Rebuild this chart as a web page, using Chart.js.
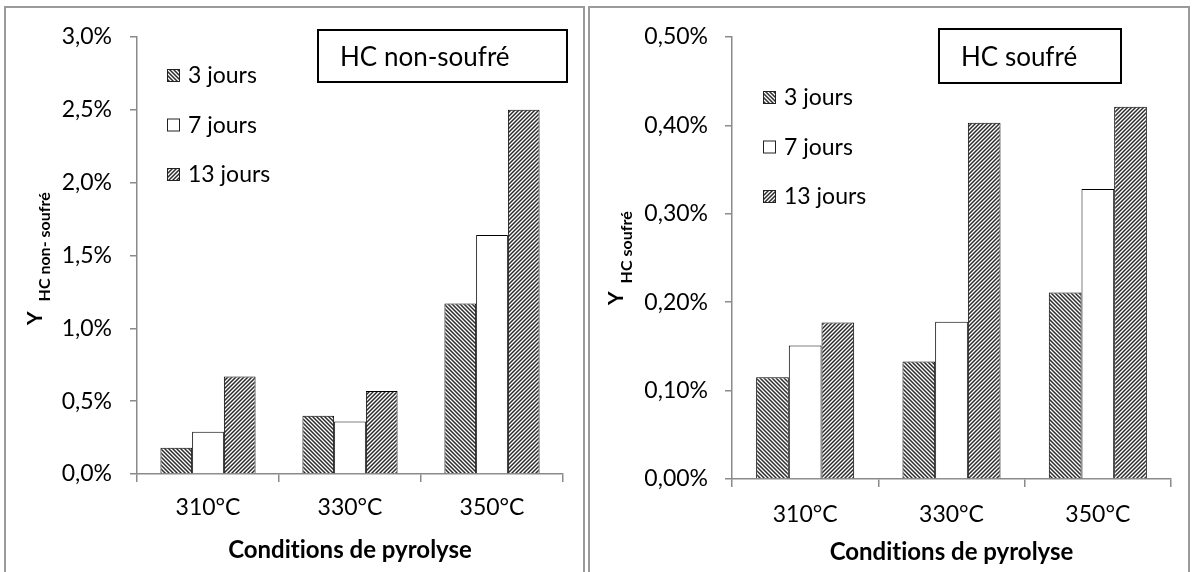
<!DOCTYPE html>
<html>
<head>
<meta charset="utf-8">
<title>Rendements HC</title>
<script src="https://cdn.jsdelivr.net/npm/chart.js@4.4.1/dist/chart.umd.min.js"></script>
<style>
  body { margin: 0; background: #fff; width: 1192px; height: 572px; overflow: hidden; position: relative; }
  .panel { position: absolute; top: 6px; height: 620px; border: 2px solid #9a9a9a; box-sizing: border-box; }
  canvas { position: absolute; top: 0; }
</style>
</head>
<body>
<div class="panel" style="left:4px; width:581px"></div>
<div class="panel" style="left:588px; width:602px"></div>
<canvas id="nonSoufre" width="586" height="572" style="left:0"></canvas>
<canvas id="soufre" width="606" height="572" style="left:586px"></canvas>
<script>
const conditions = ['310°C', '330°C', '350°C'];
const durations = ['3 jours', '7 jours', '13 jours'];

// rendement HC non-soufré (%)
const nonSoufre3j = [0.18, 0.40, 1.17];
const nonSoufre7j = [0.29, 0.36, 1.64];
const nonSoufre13j = [0.67, 0.57, 2.50];

// rendement HC soufré (%)
const soufre3j = [0.115, 0.133, 0.211];
const soufre7j = [0.151, 0.178, 0.328];
const soufre13j = [0.177, 0.403, 0.421];

const FONT = 'Lato';
// zero-width non-joiner keeps Lato from using its "ti" ligature
const xTitle = 'Condit\u200Cions de pyrolyse';

// 4x4 tile of diagonal stripes, dir 1 = "\\", dir -1 = "/"
function hatch(dir) {
    const tile = document.createElement('canvas');
    tile.width = 4;
    tile.height = 4;
    const g = tile.getContext('2d');
    const img = g.createImageData(4, 4);
    const shade = [45, 140, 255, 140];
    for (let y = 0; y < 4; y++) {
        for (let x = 0; x < 4; x++) {
            const d = (((dir > 0 ? x - y : x + y) % 4) + 4) % 4;
            const i = (y * 4 + x) * 4;
            img.data[i] = img.data[i + 1] = img.data[i + 2] = shade[d];
            img.data[i + 3] = 255;
        }
    }
    g.putImageData(img, 0, 0);
    return g.createPattern(tile, 'repeat');
}

const fills = [hatch(1), '#ffffff', hatch(-1)];

// legend drawn inside the plot, one row per series
const legendBox = {
    id: 'legendBox',
    afterDraw(chart, args, opts) {
        const ctx = chart.ctx;
        ctx.save();
        ctx.font = `23px ${FONT}`;
        ctx.textBaseline = 'middle';
        ctx.textAlign = 'left';
        chart.data.datasets.forEach((ds, i) => {
            const y = opts.top + i * opts.step;
            ctx.fillStyle = ds.backgroundColor;
            ctx.fillRect(opts.x, y - 6, 13, 13);
            ctx.strokeStyle = '#222';
            ctx.lineWidth = 1;
            ctx.strokeRect(opts.x + 0.5, y - 5.5, 12, 12);
            ctx.fillStyle = '#000';
            ctx.fillText(ds.label, opts.x + 21, y + 1);
        });
        ctx.restore();
    }
};

// framed caption in the upper right corner
const titleBox = {
    id: 'titleBox',
    afterDraw(chart, args, opts) {
        const ctx = chart.ctx;
        ctx.save();
        ctx.fillStyle = '#fff';
        ctx.fillRect(opts.x, opts.y, opts.w, opts.h);
        ctx.strokeStyle = '#000';
        ctx.lineWidth = 2;
        ctx.strokeRect(opts.x, opts.y, opts.w, opts.h);
        ctx.fillStyle = '#000';
        ctx.font = `26px ${FONT}`;
        ctx.textBaseline = 'alphabetic';
        ctx.fillText(opts.text, opts.textX, opts.y + opts.h / 2 + 10);
        ctx.restore();
    }
};

// rotated "Y" with a subscript
const yTitle = {
    id: 'yTitle',
    afterDraw(chart, args, opts) {
        const ctx = chart.ctx;
        ctx.save();
        ctx.translate(opts.x, opts.y);
        ctx.rotate(-Math.PI / 2);
        ctx.fillStyle = '#000';
        ctx.textBaseline = 'alphabetic';
        ctx.font = `bold 21px ${FONT}`;
        ctx.fillText('Y', 0, 0);
        const w = ctx.measureText('Y').width;
        ctx.font = `bold 16px ${FONT}`;
        ctx.fillText(opts.sub, w + opts.gap, opts.drop);
        ctx.restore();
    }
};

function makeChart(id, series, cfg) {
    return new Chart(document.getElementById(id), {
        type: 'bar',
        data: {
            labels: conditions,
            datasets: durations.map((label, i) => ({
                label: label,
                data: series[i],
                backgroundColor: fills[i],
                borderColor: '#000',
                borderWidth: 1,
                categoryPercentage: 0.67,
                barPercentage: 1
            }))
        },
        options: {
            responsive: false,
            animation: false,
            layout: { padding: cfg.padding },
            plugins: {
                legend: { display: false },
                tooltip: { enabled: false },
                legendBox: cfg.legend,
                titleBox: cfg.title,
                yTitle: cfg.yTitle
            },
            scales: {
                x: {
                    afterFit: scale => { scale.height = cfg.xHeight; },
                    grid: { drawOnChartArea: false, tickLength: 8, color: '#8a8a8a', lineWidth: 1.5 },
                    border: { color: '#8a8a8a', width: 1.5 },
                    ticks: { color: '#000', padding: cfg.xPad, font: { family: FONT, size: 23 } },
                    title: {
                        display: true,
                        text: xTitle,
                        color: '#000',
                        font: { family: FONT, size: 24, weight: 'bold' },
                        padding: { top: 0, bottom: cfg.titlePad }
                    }
                },
                y: {
                    min: 0,
                    max: cfg.max,
                    afterFit: scale => { scale.width = cfg.yWidth; },
                    grid: { drawOnChartArea: false, tickLength: 7, color: '#8a8a8a', lineWidth: 1.5 },
                    border: { color: '#8a8a8a', width: 1.5 },
                    ticks: {
                        stepSize: cfg.step,
                        color: '#000',
                        padding: cfg.yPad,
                        font: { family: FONT, size: 23 },
                        callback: v => v.toFixed(cfg.digits).replace('.', ',') + '%'
                    }
                }
            }
        },
        plugins: [legendBox, titleBox, yTitle]
    });
}

function draw() {
    makeChart('nonSoufre', [nonSoufre3j, nonSoufre7j, nonSoufre13j], {
        padding: { left: 0, top: 37, right: 23, bottom: 0 },
        yWidth: 137,
        xHeight: 98,
        xPad: 12,
        yPad: 18,
        titlePad: 7,
        max: 3,
        step: 0.5,
        digits: 1,
        legend: { x: 167, top: 75, step: 49.5 },
        title: { x: 318, y: 30, w: 249, h: 52, text: 'HC non-soufré', textX: 340 },
        yTitle: { x: 42, y: 325, sub: 'HC non- soufré', gap: 10, drop: 8 }
    });
    makeChart('soufre', [soufre3j, soufre7j, soufre13j], {
        padding: { left: 0, top: 37, right: 21, bottom: 0 },
        yWidth: 146,
        xHeight: 93,
        xPad: 14,
        yPad: 17,
        titlePad: 5,
        max: 0.5,
        step: 0.1,
        digits: 2,
        legend: { x: 177, top: 97, step: 49.5 },
        title: { x: 353, y: 29, w: 182, h: 54, text: 'HC soufré', textX: 375 },
        yTitle: { x: 37, y: 305, sub: 'HC soufré', gap: 8, drop: 9 }
    });
}

Promise.all([
    document.fonts.load(`23px ${FONT}`),
    document.fonts.load(`bold 23px ${FONT}`)
]).then(draw, draw);
</script>
</body>
</html>
